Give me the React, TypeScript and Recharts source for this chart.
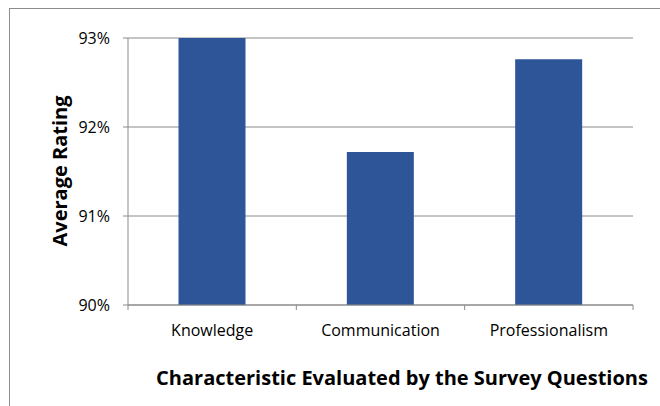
import React from "react";
import { BarChart, Bar, XAxis, YAxis, CartesianGrid, Label } from "recharts";

const categories = ["Knowledge", "Communication", "Professionalism"];
const ratings = [0.93, 0.9172, 0.9276];
const yTicks = [0.9, 0.91, 0.92, 0.93];

const data = categories.map((c, i) => ({ name: c, value: ratings[i] }));

const FONT = "'Open Sans', 'Liberation Sans', sans-serif";

const CategoryTick = (props: any) => {
  const { x, y, payload, index, visibleTicksCount } = props;
  const half = payload && payload.offset ? payload.offset : 0;
  const isLast = index === (visibleTicksCount ?? categories.length) - 1;
  const axisY = y - 12;
  return (
    <g>
      <line x1={x - half} x2={x - half} y1={axisY} y2={axisY + 5} stroke="#8a8a8a" />
      {isLast && <line x1={x + half} x2={x + half} y1={axisY} y2={axisY + 5} stroke="#8a8a8a" />}
      <text x={x} y={y + 19} textAnchor="middle" fill="#000" fontSize={16} fontFamily={FONT}>
        {payload.value}
      </text>
    </g>
  );
};

export default function App() {
  return (
    <div style={{ position: "absolute", left: 0, top: 0, width: 660, height: 406, overflow: "hidden", background: "#fff" }}>
      <div style={{ position: "absolute", left: 9, top: 8, width: 720, height: 460, border: "1px solid #8c8c8c" }} />
      <div style={{ position: "absolute", left: 0, top: 0 }}>
        <BarChart
          width={660}
          height={406}
          data={data}
          margin={{ top: 38, right: 27, bottom: 71, left: 0 }}
          barCategoryGap="30%"
        >
          <CartesianGrid vertical={false} stroke="#8a8a8a" />
          <XAxis
            dataKey="name"
            height={30}
            tickLine={false}
            axisLine={{ stroke: "#8a8a8a" }}
            tick={<CategoryTick />}
            tickMargin={6}
            interval={0}
          >
            <Label
              content={() => (
                <text
                  x={402}
                  y={385}
                  textAnchor="middle"
                  fontFamily={FONT}
                  fontWeight="bold"
                  fontSize={20}
                  fill="#000"
                >
                  Characteristic Evaluated by the Survey Questions
                </text>
              )}
            />
          </XAxis>
          <YAxis
            width={128}
            domain={[0.9, 0.93]}
            ticks={yTicks}
            allowDataOverflow
            tickFormatter={(v: number) => `${Math.round(v * 100)}%`}
            axisLine={{ stroke: "#8a8a8a" }}
            tickLine={{ stroke: "#8a8a8a" }}
            tickSize={5}
            tickMargin={13}
            tick={{ fill: "#000", fontSize: 16, fontFamily: FONT }}
          >
            <Label
              content={() => (
                <text
                  x={59}
                  y={171}
                  textAnchor="middle"
                  dominantBaseline="central"
                  transform="rotate(-90 59 171)"
                  fontFamily={FONT}
                  fontWeight="bold"
                  fontSize={20}
                  fill="#000"
                >
                  Average Rating
                </text>
              )}
            />
          </YAxis>
          <Bar dataKey="value" fill="#2E5597" isAnimationActive={false} />
        </BarChart>
      </div>
    </div>
  );
}
